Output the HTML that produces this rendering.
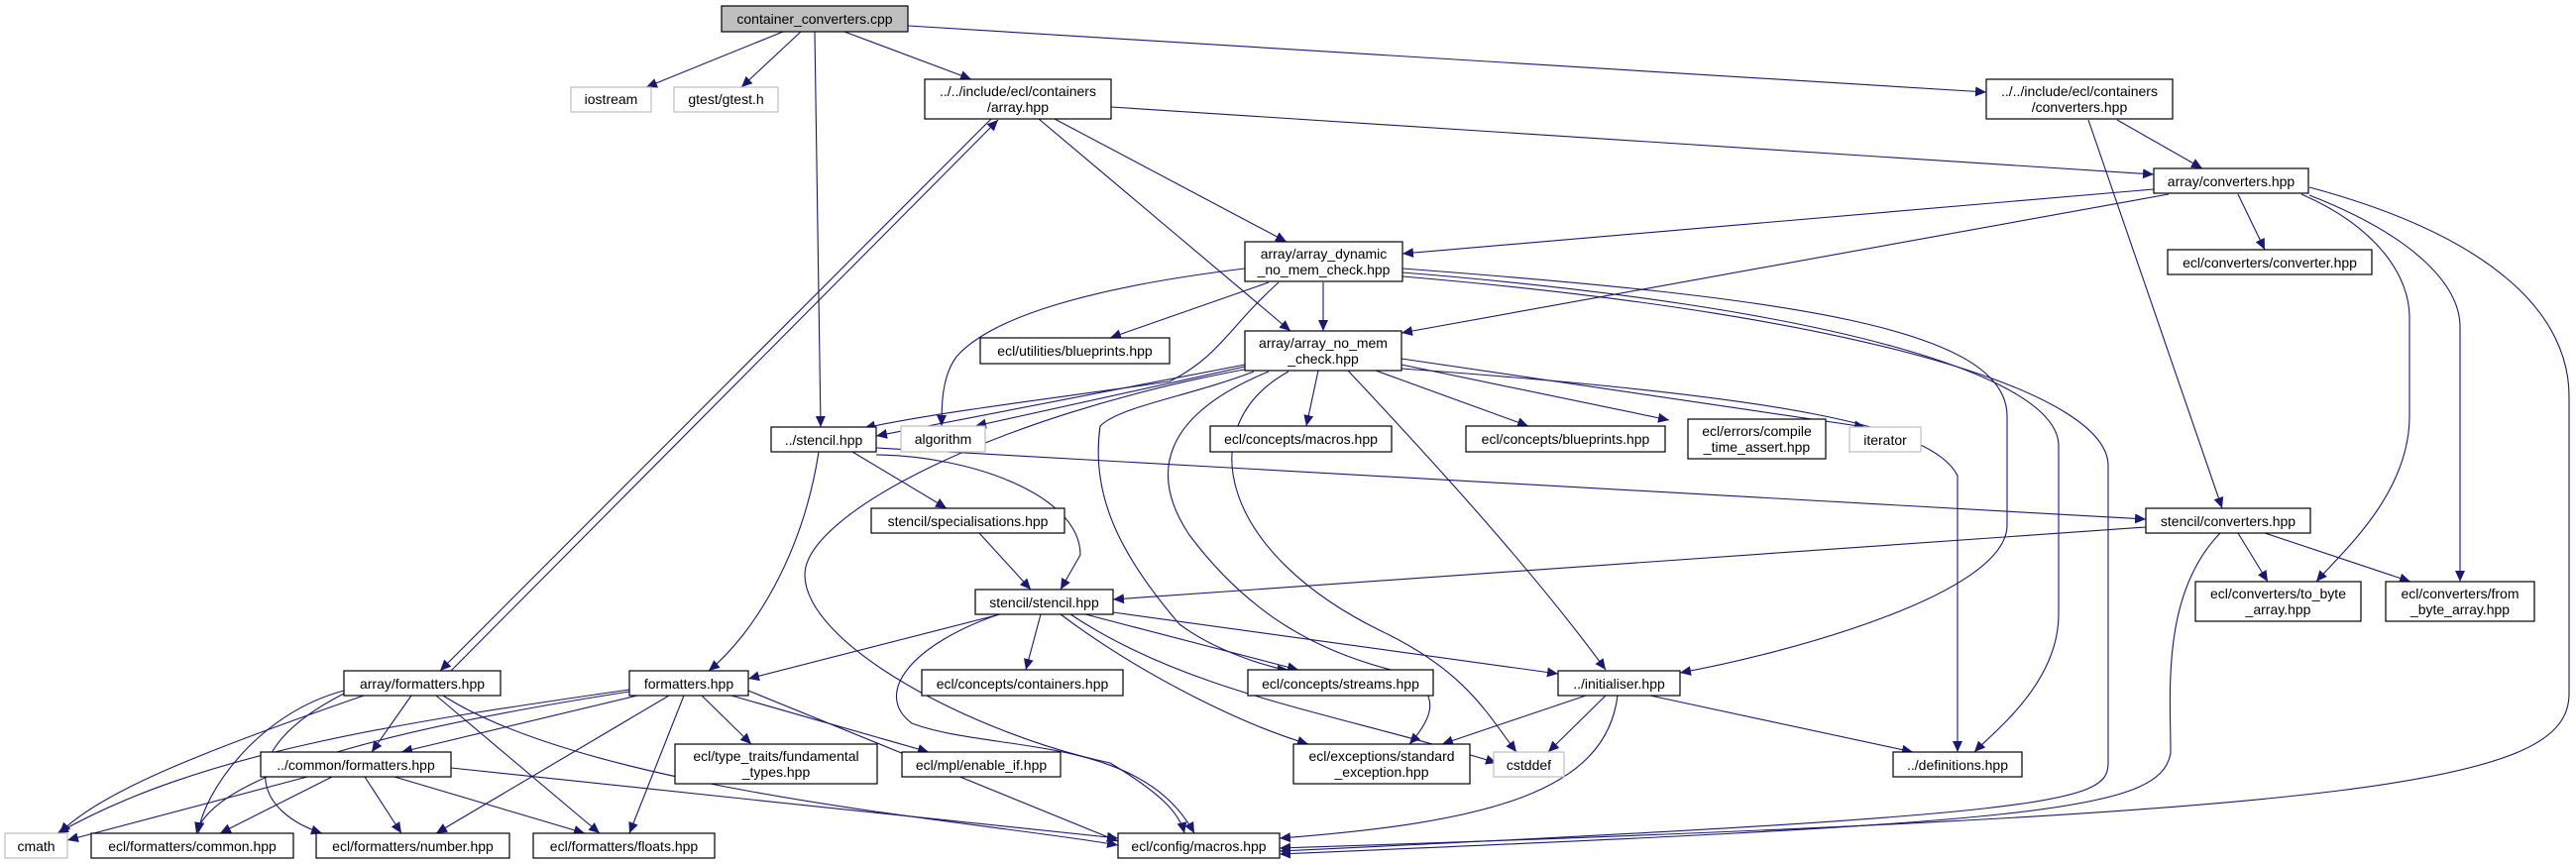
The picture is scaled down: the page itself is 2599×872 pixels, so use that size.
<!DOCTYPE html>
<html><head><meta charset="utf-8"><style>
html,body{margin:0;padding:0;background:#fff;}
svg{display:block;}
text{font-family:"Liberation Sans",sans-serif;font-size:14px;fill:#000;}
</style></head><body>
<svg width="2599" height="872" viewBox="0 0 2599 872" xmlns="http://www.w3.org/2000/svg">
<defs>
<marker id="a" markerUnits="userSpaceOnUse" markerWidth="12" markerHeight="10" refX="11" refY="5" orient="auto">
<path d="M0,0 L11,5 L0,10 z" fill="#191970"/>
</marker>
</defs>
<g fill="none" stroke="#191970" stroke-width="1.1" marker-end="url(#a)">
<path d="M790,32 L652,88"/>
<path d="M808,32 L748,88"/>
<path d="M822,32 L828,431"/>
<path d="M852,32 L980,80"/>
<path d="M916,26 L2004,93"/>
<path d="M1121,108 L2173,176"/>
<path d="M1064,120 L1298,244"/>
<path d="M1048,120 L1302,334"/>
<path d="M1000,120 L444,677"/>
<path d="M455,677 L1007,121"/>
<path d="M2136,121 L2222,170"/>
<path d="M2107,121 L2242,513"/>
<path d="M2173,191 L1415,256"/>
<path d="M2188,196 L1414,336"/>
<path d="M2258,196 L2285,252"/>
<path d="M2322,196 C2400,230 2431,280 2431,320 L2431,420 C2431,500 2360,560 2337,587"/>
<path d="M2330,197 C2440,240 2482,290 2482,330 L2482,587"/>
<path d="M2330,189 C2520,240 2592,320 2592,400 L2592,700 C2592,790 2400,820 1291,856"/>
<path d="M1256,271 C1100,290 1000,320 965,360 C950,380 950,410 950,430"/>
<path d="M1280,285 L1120,341"/>
<path d="M1335,285 L1335,334"/>
<path d="M1290,285 C1240,330 1230,360 1180,385 C1080,400 950,415 872,432"/>
<path d="M1415,271 C1800,300 2025,330 2025,420 L2025,530 C2025,600 1800,660 1695,679"/>
<path d="M1415,275 C1850,310 2077,380 2077,450 L2077,620 C2077,690 2010,740 1992,759"/>
<path d="M1415,279 C1900,320 2127,400 2127,470 L2127,770 C2127,810 2080,822 1291,859"/>
<path d="M1330,374 L1318,430"/>
<path d="M1388,374 L1542,430"/>
<path d="M1414,368 L1684,424"/>
<path d="M1414,362 L1882,431"/>
<path d="M1360,374 C1450,470 1550,580 1620,676"/>
<path d="M1256,368 L884,440"/>
<path d="M1256,370 L984,430"/>
<path d="M1265,375 C1200,400 1130,410 1110,430 C1100,500 1130,560 1190,630 C1230,660 1290,676 1300,676"/>
<path d="M1280,375 C1170,420 1160,480 1200,540 C1260,620 1330,660 1420,680 C1450,700 1450,720 1422,751"/>
<path d="M1300,375 C1200,430 1230,560 1400,640 C1480,680 1500,720 1530,759"/>
<path d="M1260,372 C1000,420 812,520 812,580 C812,650 980,740 1120,770 C1170,800 1190,820 1195,841"/>
<path d="M1414,372 C1800,400 1950,430 1975,480 L1975,759"/>
<path d="M826,456 C810,560 760,640 715,677"/>
<path d="M860,456 L955,513"/>
<path d="M884,459 C980,460 1090,500 1090,560 L1070,595"/>
<path d="M884,452 L2165,524"/>
<path d="M988,538 L1040,595"/>
<path d="M2165,532 L1123,605"/>
<path d="M2258,538 L2288,587"/>
<path d="M2285,538 L2432,587"/>
<path d="M2240,538 C2180,600 2190,700 2190,760 C2180,820 2050,830 1291,862"/>
<path d="M1009,620 L755,685"/>
<path d="M1050,620 L1035,676"/>
<path d="M1095,620 L1310,676"/>
<path d="M1123,618 L1572,680"/>
<path d="M1070,620 C1150,680 1250,730 1320,751"/>
<path d="M1080,620 C1200,700 1350,720 1510,770"/>
<path d="M1008,620 C920,650 880,700 920,730 C1000,760 1150,740 1205,841"/>
<path d="M1600,702 L1455,751"/>
<path d="M1620,702 L1562,759"/>
<path d="M1665,702 L1930,759"/>
<path d="M1632,702 C1620,800 1500,830 1291,846"/>
<path d="M643,702 L405,759"/>
<path d="M675,702 L440,841"/>
<path d="M690,702 L635,841"/>
<path d="M708,702 L758,751"/>
<path d="M738,702 L937,759"/>
<path d="M755,697 L1128,849"/>
<path d="M635,696 C400,730 200,760 58,841"/>
<path d="M635,698 C300,750 210,800 198,841"/>
<path d="M415,702 L375,759"/>
<path d="M440,702 L605,841"/>
<path d="M367,702 C200,760 100,800 60,841"/>
<path d="M347,697 C260,720 205,800 200,841"/>
<path d="M347,700 C230,760 260,820 325,841"/>
<path d="M447,702 C600,800 1000,830 1128,853"/>
<path d="M310,784 L68,848"/>
<path d="M335,784 L222,841"/>
<path d="M368,784 L405,841"/>
<path d="M398,784 L590,841"/>
<path d="M455,775 L1128,846"/>
</g>
<g stroke="#000" stroke-width="1.2" fill="#fff">
<rect x="728" y="6" width="188" height="26" fill="#bfbfbf"/>
<rect x="576" y="88" width="81" height="25" stroke="#bfbfbf"/>
<rect x="680" y="88" width="105" height="25" stroke="#bfbfbf"/>
<rect x="933" y="80" width="188" height="40"/>
<rect x="2004" y="80" width="188" height="40"/>
<rect x="2173" y="170" width="156" height="25"/>
<rect x="1256" y="244" width="159" height="40"/>
<rect x="2187" y="252" width="206" height="25"/>
<rect x="1256" y="334" width="158" height="40"/>
<rect x="989" y="341" width="191" height="26"/>
<rect x="909" y="430" width="85" height="26" stroke="#bfbfbf"/>
<rect x="1221" y="430" width="183" height="26"/>
<rect x="1479" y="430" width="201" height="26"/>
<rect x="1703" y="423" width="139" height="40"/>
<rect x="1866" y="431" width="72" height="25" stroke="#bfbfbf"/>
<rect x="778" y="431" width="106" height="25"/>
<rect x="879" y="513" width="195" height="25"/>
<rect x="2165" y="513" width="166" height="25"/>
<rect x="2215" y="587" width="167" height="40"/>
<rect x="2407" y="587" width="150" height="40"/>
<rect x="984" y="595" width="139" height="25"/>
<rect x="347" y="677" width="158" height="25"/>
<rect x="635" y="677" width="120" height="25"/>
<rect x="930" y="676" width="203" height="26"/>
<rect x="1259" y="676" width="187" height="26"/>
<rect x="1572" y="677" width="123" height="25"/>
<rect x="681" y="751" width="204" height="40"/>
<rect x="263" y="759" width="192" height="25"/>
<rect x="910" y="759" width="160" height="25"/>
<rect x="1305" y="751" width="178" height="40"/>
<rect x="1507" y="759" width="71" height="25" stroke="#bfbfbf"/>
<rect x="1910" y="759" width="130" height="25"/>
<rect x="5" y="841" width="63" height="25" stroke="#bfbfbf"/>
<rect x="92" y="841" width="204" height="25"/>
<rect x="319" y="841" width="195" height="25"/>
<rect x="538" y="841" width="183" height="25"/>
<rect x="1128" y="841" width="163" height="25"/>
</g>
<g text-anchor="middle">
<text x="822" y="24">container_converters.cpp</text>
<text x="616.5" y="105">iostream</text>
<text x="732.5" y="105">gtest/gtest.h</text>
<text x="1027" y="97">../../include/ecl/containers</text>
<text x="1027" y="113">/array.hpp</text>
<text x="2098" y="97">../../include/ecl/containers</text>
<text x="2098" y="113">/converters.hpp</text>
<text x="2251" y="188">array/converters.hpp</text>
<text x="1335.5" y="261">array/array_dynamic</text>
<text x="1335.5" y="277">_no_mem_check.hpp</text>
<text x="2290" y="270">ecl/converters/converter.hpp</text>
<text x="1335" y="351">array/array_no_mem</text>
<text x="1335" y="367">_check.hpp</text>
<text x="1084.5" y="359">ecl/utilities/blueprints.hpp</text>
<text x="951.5" y="448">algorithm</text>
<text x="1312.5" y="448">ecl/concepts/macros.hpp</text>
<text x="1579.5" y="448">ecl/concepts/blueprints.hpp</text>
<text x="1772.5" y="440">ecl/errors/compile</text>
<text x="1772.5" y="456">_time_assert.hpp</text>
<text x="1902" y="449">iterator</text>
<text x="831" y="449">../stencil.hpp</text>
<text x="976.5" y="531">stencil/specialisations.hpp</text>
<text x="2248" y="531">stencil/converters.hpp</text>
<text x="2298.5" y="604">ecl/converters/to_byte</text>
<text x="2298.5" y="620">_array.hpp</text>
<text x="2482" y="604">ecl/converters/from</text>
<text x="2482" y="620">_byte_array.hpp</text>
<text x="1053.5" y="613">stencil/stencil.hpp</text>
<text x="426" y="695">array/formatters.hpp</text>
<text x="695" y="695">formatters.hpp</text>
<text x="1031.5" y="695">ecl/concepts/containers.hpp</text>
<text x="1352.5" y="695">ecl/concepts/streams.hpp</text>
<text x="1633.5" y="695">../initialiser.hpp</text>
<text x="783" y="768">ecl/type_traits/fundamental</text>
<text x="783" y="784">_types.hpp</text>
<text x="359" y="777">../common/formatters.hpp</text>
<text x="990" y="777">ecl/mpl/enable_if.hpp</text>
<text x="1394" y="768">ecl/exceptions/standard</text>
<text x="1394" y="784">_exception.hpp</text>
<text x="1542.5" y="777">cstddef</text>
<text x="1975" y="777">../definitions.hpp</text>
<text x="36.5" y="859">cmath</text>
<text x="194" y="859">ecl/formatters/common.hpp</text>
<text x="416.5" y="859">ecl/formatters/number.hpp</text>
<text x="629.5" y="859">ecl/formatters/floats.hpp</text>
<text x="1209.5" y="859">ecl/config/macros.hpp</text>
</g>
</svg>
</body></html>
